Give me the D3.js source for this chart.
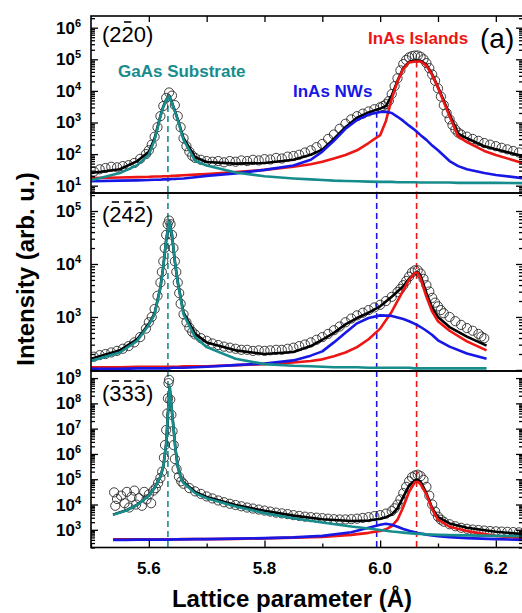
<!DOCTYPE html>
<html>
<head>
<meta charset="utf-8">
<script src="https://cdn.jsdelivr.net/npm/d3@7"></script>
<style>
body { margin: 0; background: #fff; }
svg { display: block; font-family: "Liberation Sans", Arial, sans-serif; }
</style>
</head>
<body>
<div id="chart"></div>
<script>
// x axis: lattice parameter (Angstrom)
let xTickMajor = [5.6, 5.8, 6.0, 6.2]
let xTickMinor = [5.5, 5.7, 5.9, 6.1]
let xTickLabels = ["5.6", "5.8", "6.0", "6.2"]
let xTickTop = [5.6, 5.7, 5.8, 5.9, 6.0, 6.1, 6.2]

// peak positions marked by dashed lines: GaAs, InAs NWs, InAs islands
let peakGaAs = 5.633
let peakNWs = 5.994
let peakIslands = 6.063

// intensities are given as log10(intensity)

// ---- panel (2-20) ----
let fitX1 = [5.50,5.55,5.58,5.60,5.61,5.62,5.625,5.63,5.635,5.64,5.645,5.65,5.66,5.68,5.70,5.75,5.80,5.85,5.88,5.90,5.92,5.94,5.96,5.98,6.00,6.01,6.02,6.03,6.04,6.05,6.06,6.07,6.08,6.09,6.10,6.12,6.135,6.15,6.18,6.20,6.25]
let total1 = [1.40,1.52,1.78,2.07,2.50,3.20,3.50,3.72,3.85,3.63,3.37,3.10,2.50,1.90,1.75,1.70,1.72,1.82,1.98,2.14,2.48,2.85,3.15,3.32,3.44,3.52,3.85,4.32,4.72,4.92,4.95,4.95,4.83,4.52,4.12,3.25,2.65,2.50,2.25,2.15,1.92]
let gaas1 = [1.17,1.40,1.65,1.98,2.45,3.19,3.50,3.71,3.84,3.61,3.35,3.08,2.45,1.79,1.64,1.42,1.30,1.23,1.20,1.18,1.16,1.15,1.14,1.13,1.12,1.12,1.12,1.11,1.11,1.11,1.11,1.10,1.10,1.10,1.10,1.10,1.09,1.09,1.09,1.09,1.08]
let nws1 = [1.14,1.16,1.17,1.18,1.19,1.19,1.20,1.20,1.20,1.21,1.21,1.22,1.23,1.27,1.31,1.39,1.50,1.64,1.82,2.08,2.42,2.80,3.08,3.25,3.33,3.34,3.30,3.18,3.05,2.90,2.76,2.60,2.45,2.27,2.12,1.78,1.62,1.52,1.40,1.34,1.23]
let islands1 = [1.24,1.26,1.27,1.28,1.29,1.29,1.30,1.30,1.30,1.31,1.31,1.32,1.33,1.35,1.37,1.43,1.50,1.60,1.68,1.76,1.86,1.97,2.12,2.35,2.60,3.05,3.75,4.30,4.70,4.90,4.93,4.93,4.80,4.50,4.10,3.20,2.55,2.38,2.10,1.97,1.70]
let obsX1 = [5.505,5.515,5.525,5.535,5.545,5.555,5.565,5.575,5.585,5.595,
  5.60,5.605,5.61,5.615,5.62,5.625,5.63,5.635,5.64,5.645,5.65,5.655,5.66,5.665,5.67,5.675,
  5.68,5.69,5.70,5.71,5.72,5.73,5.74,5.75,5.76,5.77,5.78,5.79,5.80,5.81,5.82,5.83,5.84,5.85,5.86,5.87,5.88,5.89,5.90,5.91,5.92,5.93,5.94,5.95,5.96,5.97,5.98,5.99,
  6.00,6.005,6.01,6.015,6.02,6.025,6.03,6.035,6.04,6.045,6.05,6.055,6.06,6.065,6.07,6.075,6.08,6.085,6.09,6.095,6.10,6.105,6.11,6.115,6.12,6.125,6.13,6.135,
  6.14,6.15,6.16,6.17,6.18,6.19,6.20,6.21,6.22,6.23,6.24]
let obsY1 = [1.45,1.52,1.56,1.60,1.58,1.62,1.65,1.72,1.85,2.00,
  2.12,2.30,2.55,2.85,3.20,3.52,3.78,3.95,3.85,3.55,3.20,2.85,2.50,2.25,2.08,1.95,
  1.88,1.82,1.78,1.76,1.78,1.74,1.78,1.76,1.80,1.78,1.82,1.80,1.84,1.83,1.88,1.86,1.92,1.94,1.98,2.05,2.12,2.22,2.32,2.48,2.62,2.80,2.96,3.10,3.20,3.28,3.35,3.42,
  3.48,3.52,3.58,3.68,3.90,4.15,4.40,4.65,4.85,4.98,5.06,5.10,5.12,5.12,5.08,5.00,4.88,4.72,4.52,4.32,4.08,3.82,3.55,3.30,3.10,2.92,2.78,2.68,
  2.62,2.55,2.48,2.42,2.35,2.30,2.25,2.20,2.15,2.10,2.05]

// ---- panel (-2-4-2) ----
let fitX2 = [5.50,5.55,5.58,5.60,5.61,5.62,5.625,5.63,5.635,5.64,5.645,5.65,5.66,5.68,5.70,5.75,5.80,5.85,5.88,5.90,5.92,5.94,5.96,5.98,6.00,6.02,6.04,6.05,6.06,6.065,6.07,6.08,6.09,6.10,6.12,6.15,6.184]
let total2 = [2.21,2.37,2.58,2.87,3.07,3.56,3.95,4.45,4.80,4.55,4.05,3.66,3.08,2.68,2.52,2.37,2.30,2.34,2.45,2.57,2.70,2.86,2.98,3.08,3.20,3.38,3.58,3.72,3.83,3.85,3.78,3.45,3.17,3.00,2.81,2.63,2.46]
let gaas2 = [2.17,2.33,2.55,2.85,3.05,3.55,3.95,4.45,4.80,4.55,4.05,3.65,3.05,2.62,2.43,2.21,2.11,2.08,2.07,2.06,2.05,2.05,2.05,2.04,2.04,2.04,2.04,2.04,2.03,2.03,2.03,2.03,2.03,2.03,2.03,2.03,2.03]
let nws2 = [2.02,2.02,2.03,2.03,2.03,2.03,2.03,2.03,2.03,2.04,2.04,2.04,2.04,2.05,2.06,2.09,2.12,2.18,2.27,2.35,2.52,2.70,2.88,2.98,3.03,3.02,2.96,2.92,2.87,2.84,2.81,2.74,2.66,2.56,2.44,2.31,2.21]
let islands2 = [2.05,2.05,2.06,2.06,2.06,2.06,2.06,2.06,2.06,2.06,2.06,2.06,2.07,2.07,2.07,2.09,2.11,2.14,2.17,2.20,2.26,2.33,2.43,2.58,2.78,3.10,3.50,3.70,3.83,3.84,3.72,3.38,3.10,2.92,2.74,2.54,2.37]
let obsX2 = [5.505,5.515,5.525,5.535,5.545,5.555,5.565,5.575,5.585,5.595,
  5.60,5.605,5.61,5.615,5.62,5.6225,5.625,5.6275,5.63,5.6325,5.635,5.6375,5.64,5.6425,5.645,5.6475,5.65,5.6525,5.655,5.66,5.665,5.67,5.675,
  5.68,5.69,5.70,5.71,5.72,5.73,5.74,5.75,5.76,5.77,5.78,5.79,5.80,5.81,5.82,5.83,5.84,5.85,5.86,5.87,5.88,5.89,5.90,5.91,5.92,5.93,5.94,5.95,5.96,5.97,5.98,5.99,6.00,
  6.01,6.02,6.03,6.035,6.04,6.045,6.05,6.055,6.06,6.065,6.07,6.075,6.08,6.085,6.09,6.095,6.10,6.105,6.11,6.12,6.13,6.14,6.15,6.16,6.17,6.175,6.18]
let obsY2 = [2.25,2.28,2.30,2.33,2.36,2.40,2.45,2.52,2.62,2.78,
  2.90,3.00,3.15,3.40,3.65,3.85,4.05,4.30,4.55,4.75,4.82,4.75,4.55,4.30,4.05,3.85,3.65,3.45,3.25,3.05,2.90,2.80,2.72,
  2.67,2.60,2.55,2.50,2.47,2.44,2.42,2.40,2.38,2.38,2.36,2.37,2.36,2.37,2.38,2.38,2.40,2.42,2.45,2.48,2.52,2.57,2.62,2.68,2.75,2.82,2.90,2.97,3.03,3.08,3.13,3.18,3.23,
  3.30,3.38,3.47,3.53,3.60,3.68,3.76,3.84,3.88,3.88,3.82,3.72,3.60,3.48,3.36,3.27,3.20,3.13,3.07,3.00,2.92,2.85,2.79,2.74,2.68,2.63,2.60]

// ---- panel (-3-3-3) ----
let fitX3 = [5.538,5.56,5.58,5.60,5.61,5.62,5.625,5.63,5.633,5.636,5.639,5.642,5.646,5.65,5.656,5.66,5.68,5.70,5.75,5.80,5.85,5.90,5.95,5.98,6.00,6.01,6.02,6.03,6.04,6.05,6.06,6.065,6.07,6.08,6.09,6.10,6.12,6.15,6.20,6.25]
let total3 = [3.60,3.76,3.99,4.36,4.66,5.10,5.50,6.40,7.60,8.66,7.90,7.20,6.20,5.50,5.02,4.88,4.50,4.30,3.98,3.75,3.56,3.42,3.35,3.37,3.44,3.50,3.60,3.85,4.30,4.75,4.95,4.98,4.90,4.45,3.85,3.50,3.25,3.08,2.92,2.82]
let gaas3 = [3.59,3.75,3.98,4.35,4.65,5.10,5.50,6.40,7.60,8.66,7.90,7.20,6.20,5.50,5.00,4.85,4.45,4.25,3.92,3.66,3.46,3.29,3.13,3.05,2.99,2.96,2.93,2.91,2.89,2.87,2.85,2.84,2.84,2.82,2.81,2.80,2.79,2.78,2.76,2.75]
let nws3 = [2.60,2.60,2.61,2.61,2.61,2.61,2.61,2.61,2.61,2.61,2.61,2.62,2.62,2.62,2.62,2.62,2.63,2.63,2.65,2.67,2.70,2.76,2.90,3.08,3.20,3.24,3.20,3.12,3.03,2.96,2.90,2.87,2.85,2.81,2.78,2.75,2.71,2.67,2.63,2.60]
let islands3 = [2.62,2.62,2.62,2.62,2.62,2.62,2.62,2.62,2.62,2.62,2.62,2.62,2.62,2.62,2.63,2.63,2.63,2.63,2.64,2.66,2.69,2.72,2.80,2.88,2.95,3.02,3.15,3.40,3.90,4.50,4.88,4.90,4.80,4.40,3.80,3.40,3.12,2.95,2.76,2.66]
let obsX3 = [5.540,5.542,5.545,5.552,5.558,5.562,5.566,5.570,5.575,5.578,5.583,5.588,5.592,5.596,5.600,5.604,5.608,5.612,5.616,5.620,5.623,5.626,5.628,5.630,5.632,5.633,5.634,5.635,5.637,5.639,5.641,5.643,5.645,5.648,5.652,5.656,5.66,
  5.67,5.68,5.69,5.70,5.71,5.72,5.73,5.74,5.75,5.76,5.77,5.78,5.79,5.80,5.81,5.82,5.83,5.84,5.85,5.86,5.87,5.88,5.89,5.90,5.91,5.92,5.93,5.94,5.95,5.96,5.97,5.98,5.99,6.00,6.01,
  6.02,6.025,6.03,6.035,6.04,6.045,6.05,6.055,6.06,6.065,6.07,6.075,6.08,6.085,6.09,6.095,6.10,6.105,6.11,
  6.12,6.13,6.14,6.15,6.16,6.17,6.18,6.19,6.20,6.21,6.22,6.23,6.24,6.25]
let obsY3 = [4.48,3.95,4.22,4.35,4.05,4.50,3.88,4.30,4.55,4.00,4.25,3.95,4.50,4.20,4.40,4.05,4.55,4.65,4.85,5.05,5.30,5.85,6.35,6.95,7.60,8.20,8.80,8.93,8.15,7.55,6.90,6.35,5.80,5.40,5.10,4.92,4.82,
  4.65,4.52,4.42,4.32,4.24,4.16,4.09,4.03,3.98,3.93,3.88,3.84,3.80,3.76,3.72,3.68,3.65,3.62,3.58,3.55,3.52,3.50,3.48,3.46,3.44,3.42,3.41,3.41,3.42,3.44,3.47,3.50,3.54,3.58,3.64,
  3.74,3.85,4.00,4.20,4.45,4.70,4.92,5.08,5.15,5.18,5.12,4.98,4.70,4.35,4.00,3.72,3.52,3.40,3.32,
  3.22,3.14,3.08,3.04,3.01,2.99,2.97,2.95,2.94,2.93,2.92,2.91,2.90,2.89]

let decades1 = [1, 2, 3, 4, 5, 6]
let decades2 = [2, 3, 4, 5]
let labels2 = [3, 4, 5]
let decades3 = [3, 4, 5, 6, 7, 8, 9]

let colGaAs = "#178c8c"
let colNWs = "#1717e6"
let colIslands = "#ee1515"

let W = 522, H = 613
let left = 91, right = 523

let svg = d3.select("#chart").append("svg")
  .attr("width", W)
  .attr("height", H)

let x = d3.scaleLinear().domain([5.5, 6.247]).range([left, right])

let panels = [
  {top: 16, bottom: 193, lo: 0.769, hi: 6.37, decades: decades1, labels: decades1,
   hkl: "(220)", bars: [2], hklY: 42, dashFromPeak: true,
   fitX: fitX1, total: total1, gaas: gaas1, nws: nws1, islands: islands1, obsX: obsX1, obsY: obsY1},
  {top: 193, bottom: 371, lo: 1.98, hi: 5.34, decades: decades2, labels: labels2,
   hkl: "(242)", bars: [1, 2, 3], hklY: 222, dashFromPeak: false,
   fitX: fitX2, total: total2, gaas: gaas2, nws: nws2, islands: islands2, obsX: obsX2, obsY: obsY2},
  {top: 371, bottom: 547.5, lo: 2.30, hi: 9.28, decades: decades3, labels: decades3,
   hkl: "(333)", bars: [1, 2, 3], hklY: 401, dashFromPeak: false,
   fitX: fitX3, total: total3, gaas: gaas3, nws: nws3, islands: islands3, obsX: obsX3, obsY: obsY3}
]

panels.forEach(function(p, i) {
  let y = d3.scaleLog().domain([10 ** p.lo, 10 ** p.hi]).range([p.bottom, p.top])
  let g = svg.append("g")

  svg.append("clipPath").attr("id", "clip" + i)
    .append("rect")
    .attr("x", left).attr("y", p.top)
    .attr("width", right - left).attr("height", p.bottom - p.top)

  let plot = g.append("g").attr("clip-path", "url(#clip" + i + ")")

  // dashed peak markers
  let marks = [[peakGaAs, colGaAs, p.gaas], [peakNWs, colNWs, p.nws], [peakIslands, colIslands, p.islands]]
  marks.forEach(function(m) {
    let y0 = p.dashFromPeak ? y(10 ** d3.max(m[2])) : p.top
    plot.append("line")
      .attr("x1", x(m[0])).attr("x2", x(m[0]))
      .attr("y1", y0).attr("y2", p.bottom)
      .attr("stroke", m[1])
      .attr("stroke-width", 1.6)
      .attr("stroke-dasharray", "6,4")
  })

  // measured points
  plot.selectAll("circle")
    .data(d3.zip(p.obsX, p.obsY))
    .enter()
    .append("circle")
    .attr("cx", d => x(d[0]))
    .attr("cy", d => y(10 ** d[1]))
    .attr("r", 4.6)
    .attr("fill", "none")
    .attr("stroke", "#2a2a2a")
    .attr("stroke-width", 0.9)

  // fitted curves
  let line = d3.line()
    .x(d => x(d[0]))
    .y(d => y(10 ** d[1]))

  let curves = [[p.total, "#000"], [p.islands, colIslands], [p.nws, colNWs], [p.gaas, colGaAs]]
  curves.forEach(function(c) {
    plot.append("path")
      .datum(d3.zip(p.fitX, c[0]))
      .attr("d", line)
      .attr("fill", "none")
      .attr("stroke", c[1])
      .attr("stroke-width", 2.6)
      .attr("stroke-linejoin", "round")
  })

  // log ticks on left and right, pointing inward
  let majors = p.decades.map(k => 10 ** k).filter(v => v >= 10 ** p.lo && v <= 10 ** p.hi)
  let minors = []
  for (let k = Math.floor(p.lo); k <= Math.floor(p.hi); k++) {
    for (let m = 2; m <= 9; m++) {
      let v = m * 10 ** k
      if (v >= 10 ** p.lo && v <= 10 ** p.hi) minors.push(v)
    }
  }

  function tickAxis(axis, pos, values, size) {
    g.append("g")
      .attr("transform", "translate(" + pos + ",0)")
      .call(axis(y).tickValues(values).tickSize(-size).tickSizeOuter(0).tickFormat(""))
      .call(s => s.select(".domain").remove())
      .selectAll("line").attr("stroke", "#000").attr("stroke-width", 1.3)
  }
  tickAxis(d3.axisLeft, left, majors, 7)
  tickAxis(d3.axisLeft, left, minors, 4)
  tickAxis(d3.axisRight, right, majors, 7)
  tickAxis(d3.axisRight, right, minors, 4)

  // decade labels
  p.labels.forEach(function(k) {
    let t = g.append("text")
      .attr("x", 81)
      .attr("y", y(10 ** k) + 6)
      .attr("text-anchor", "end")
      .attr("font-weight", "bold")
      .attr("font-size", 17)
    t.append("tspan").text("10")
    t.append("tspan").attr("dy", -7).attr("font-size", 11).text(k)
  })

  // frame
  g.append("rect")
    .attr("x", left).attr("y", p.top)
    .attr("width", right - left).attr("height", p.bottom - p.top)
    .attr("fill", "none")
    .attr("stroke", "#000")
    .attr("stroke-width", 1.6)

  // reflection label, negative indices get their own short bar
  let hkl = g.append("text")
    .attr("x", 102)
    .attr("y", p.hklY)
    .attr("font-size", 22)
    .text(p.hkl)
  p.bars.forEach(function(ci) {
    let box = hkl.node().getExtentOfChar(ci)
    g.append("line")
      .attr("x1", box.x + 2.5).attr("x2", box.x + box.width - 2.5)
      .attr("y1", p.hklY - 20).attr("y2", p.hklY - 20)
      .attr("stroke", "#000")
      .attr("stroke-width", 1.6)
  })
})

// top ticks of the first panel
svg.append("g")
  .attr("transform", "translate(0,16)")
  .call(d3.axisTop(x).tickValues(xTickTop).tickSize(-6).tickSizeOuter(0).tickFormat(""))
  .call(s => s.select(".domain").remove())
  .selectAll("line").attr("stroke-width", 1.3)

// bottom axis of the last panel
let bottomY = 547.5
svg.append("g")
  .attr("transform", "translate(0," + bottomY + ")")
  .call(d3.axisBottom(x).tickValues(xTickMajor).tickSize(-7).tickSizeOuter(0).tickFormat(""))
  .call(s => s.select(".domain").remove())
  .selectAll("line").attr("stroke-width", 1.3)
svg.append("g")
  .attr("transform", "translate(0," + bottomY + ")")
  .call(d3.axisBottom(x).tickValues(xTickMinor).tickSize(-4).tickSizeOuter(0).tickFormat(""))
  .call(s => s.select(".domain").remove())
  .selectAll("line").attr("stroke-width", 1.3)

svg.selectAll(".xlab")
  .data(xTickMajor)
  .enter()
  .append("text")
  .attr("x", d => x(d))
  .attr("y", 574)
  .attr("text-anchor", "middle")
  .attr("font-weight", "bold")
  .attr("font-size", 17)
  .text((d, i) => xTickLabels[i])

// axis titles
svg.append("text")
  .attr("x", 292)
  .attr("y", 607)
  .attr("text-anchor", "middle")
  .attr("font-weight", "bold")
  .attr("font-size", 24)
  .text("Lattice parameter (Å)")

svg.append("text")
  .attr("transform", "translate(34,269) rotate(-90)")
  .attr("text-anchor", "middle")
  .attr("font-weight", "bold")
  .attr("font-size", 24)
  .text("Intensity (arb. u.)")

// annotations
svg.append("text")
  .attr("x", 118).attr("y", 77)
  .attr("font-weight", "bold").attr("font-size", 17)
  .attr("fill", colGaAs)
  .text("GaAs Substrate")

svg.append("text")
  .attr("x", 293).attr("y", 97)
  .attr("font-weight", "bold").attr("font-size", 17)
  .attr("fill", colNWs)
  .text("InAs NWs")

svg.append("text")
  .attr("x", 368).attr("y", 44)
  .attr("font-weight", "bold").attr("font-size", 17)
  .attr("fill", colIslands)
  .text("InAs Islands")

svg.append("text")
  .attr("x", 480).attr("y", 48)
  .attr("font-size", 28)
  .text("(a)")
</script>
</body>
</html>
